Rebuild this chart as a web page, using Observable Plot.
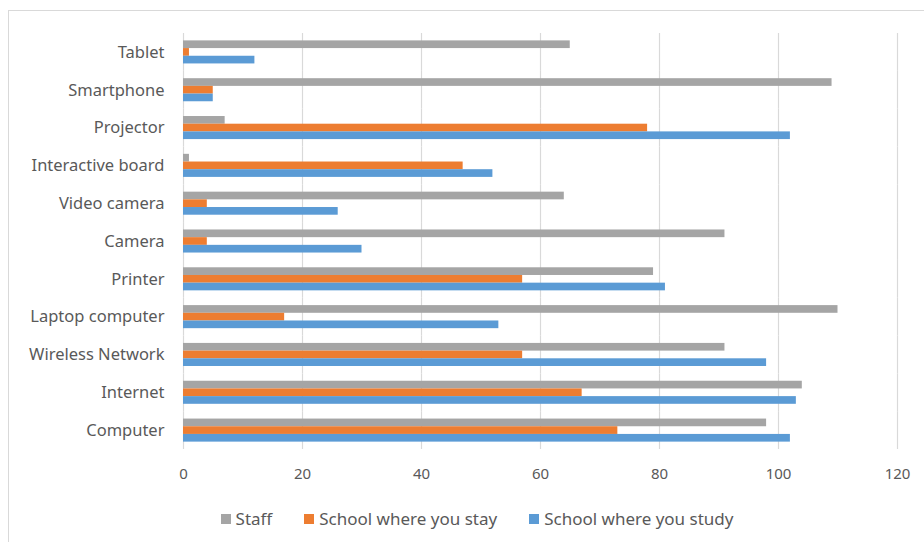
<!DOCTYPE html>
<html>
<head>
<meta charset="utf-8">
<script src="https://cdn.jsdelivr.net/npm/d3@7"></script>
<script src="https://cdn.jsdelivr.net/npm/@observablehq/plot@0.6"></script>
<style>
  html, body { margin: 0; padding: 0; background: #fff; }
  body { width: 924px; height: 542px; overflow: hidden; position: relative; font-family: "Noto Sans", sans-serif; }
  #frame { position: absolute; left: 8px; top: 10px; width: 1000px; height: 600px; border: 1.5px solid #d9d9d9; box-sizing: border-box; }
  #chart svg { display: block; }
  #legend { position: absolute; left: 10px; top: 496px; width: 916px; display: flex; justify-content: center; font-size: 17px; color: #595959; }
  .item { display: flex; align-items: center; margin: 0 16px; }
  .sw { width: 10px; height: 10px; margin-right: 5px; }
</style>
</head>
<body>
<div id="frame">
  <div id="chart"></div>
  <div id="legend"></div>
</div>
<script>
// Categories listed bottom to top (as in the source spreadsheet)
const categories = ["Computer", "Internet", "Wireless Network", "Laptop computer", "Printer", "Camera", "Video camera", "Interactive board", "Projector", "Smartphone", "Tablet"];
const series = ["Staff", "School where you stay", "School where you study"];
const colors = ["#A5A5A5", "#ED7D31", "#5B9BD5"];
const staff = [98, 104, 91, 110, 79, 91, 64, 1, 7, 109, 65];
const stay  = [73, 67, 57, 17, 57, 4, 4, 47, 78, 5, 1];
const study = [102, 103, 98, 53, 81, 30, 26, 52, 102, 5, 12];
const xTicks = [0, 20, 40, 60, 80, 100, 120];

const values = [staff, stay, study];
const data = [];
categories.forEach((c, i) => {
  series.forEach((s, j) => data.push({category: c, series: s, value: values[j][i]}));
});

const chart = Plot.plot({
  width: 915,
  height: 490,
  marginLeft: 174,
  marginRight: 27,
  marginTop: 22,
  marginBottom: 52,
  style: {fontFamily: "Noto Sans, sans-serif", fontSize: "15px", color: "#595959", background: "white"},
  fy: {domain: categories.slice().reverse(), padding: 0, round: false, label: null},
  y: {domain: series, axis: null, paddingInner: 0, paddingOuter: 0.96, round: false},
  x: {domain: [0, 120], label: null},
  color: {domain: series, range: colors},
  marks: [
    Plot.gridX(xTicks, {stroke: "#d9d9d9", strokeOpacity: 1, strokeWidth: 1.2}),
    Plot.barX(data, {fy: "category", y: "series", x: "value", fill: "series", insetTop: 0, insetBottom: 0}),
    Plot.axisX(xTicks, {tickSize: 0, tickPadding: 19, fontSize: 15, fill: "#595959", label: null}),
    Plot.axisFy({anchor: "left", tickSize: 0, tickPadding: 19, fontSize: 16.5, fill: "#595959", label: null})
  ]
});
document.getElementById("chart").appendChild(chart);

const legend = document.getElementById("legend");
series.forEach((s, i) => {
  const it = document.createElement("div");
  it.className = "item";
  const sw = document.createElement("span");
  sw.className = "sw";
  sw.style.background = colors[i];
  const t = document.createElement("span");
  t.textContent = s;
  it.appendChild(sw); it.appendChild(t);
  legend.appendChild(it);
});
</script>
</body>
</html>
